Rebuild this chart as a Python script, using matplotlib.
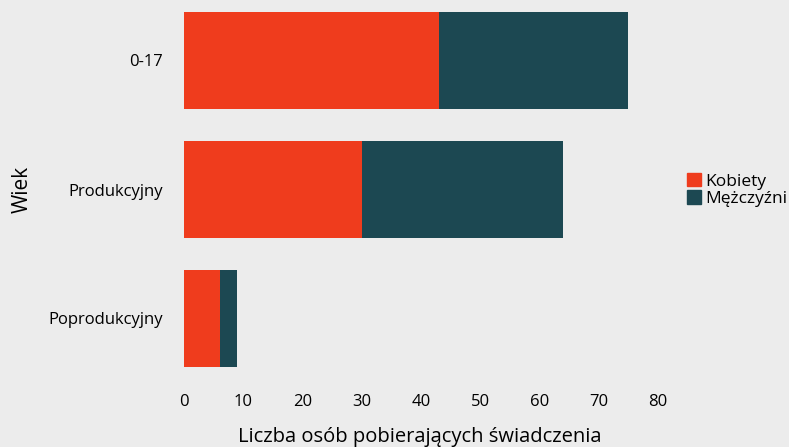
import numpy as np
import matplotlib.pyplot as plt
from matplotlib.patches import Patch

plt.rcParams['font.family'] = ['Open Sans', 'DejaVu Sans']

# data
groups = ["0-17", "Produkcyjny", "Poprodukcyjny"]
kobiety = [43, 30, 6]
mezczyzni = [32, 34, 3]

bg = "#ececec"
red = "#ef3c1d"
teal = "#1c4852"

W, H = 789, 447
fig = plt.figure(figsize=(W / 100, H / 100), dpi=100, facecolor=bg)
ax = fig.add_axes([184 / W, 1 - 383 / H, (658 - 184) / W, 387 / H])
ax.set_facecolor(bg)

y = np.arange(len(groups))
ax.barh(y, kobiety, height=0.75, color=red, label="Kobiety")
ax.barh(y, mezczyzni, left=kobiety, height=0.75, color=teal, label="Mężczyźni")

ax.set_xlim(0, 80)
ax.set_ylim(2.5, -0.5)
ax.set_yticks(y)
ax.set_yticklabels(groups, fontsize=12)
ax.set_xticks(range(0, 81, 10))
ax.tick_params(axis="x", labelsize=12, length=0, pad=8)
ax.tick_params(axis="y", length=0, pad=15)
for s in ax.spines.values():
    s.set_visible(False)

# axis titles placed by hand
fig.text(420 / W, 1 - 437 / H, "Liczba osób pobierających świadczenia",
         fontsize=14.5, ha="center", va="center")
fig.text(22 / W, 1 - 189 / H, "Wiek", fontsize=15, rotation=90,
         ha="center", va="center")

handles = [Patch(color=red), Patch(color=teal)]
fig.legend(handles, ["Kobiety", "Mężczyźni"], loc="center left",
           bbox_to_anchor=(673 / W, 1 - 190 / H), frameon=False, fontsize=12.5,
           handlelength=0.8, handleheight=0.8, handletextpad=0.25,
           labelspacing=0.05, borderpad=0.3)

fig.savefig("out.png", dpi=100, facecolor=bg)
